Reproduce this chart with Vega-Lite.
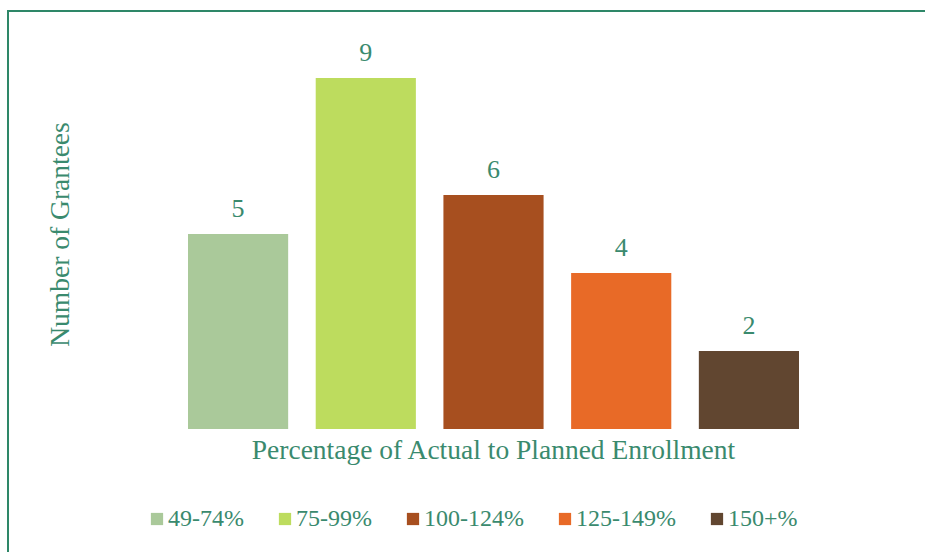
{
  "$schema": "https://vega.github.io/schema/vega-lite/v6.json",
  "autosize": {"type": "none"},
  "padding": {"left": 8, "top": 11, "right": 0, "bottom": 0},
  "width": 920,
  "height": 545,
  "background": "white",
  "config": {
    "view": {"stroke": "#2E8768", "strokeWidth": 2},
    "font": "Liberation Serif"
  },
  "data": {
    "values": [
      {"range": "49-74%", "grantees": 5},
      {"range": "75-99%", "grantees": 9},
      {"range": "100-124%", "grantees": 6},
      {"range": "125-149%", "grantees": 4},
      {"range": "150+%", "grantees": 2}
    ]
  },
  "encoding": {
    "x": {
      "field": "range",
      "type": "nominal",
      "sort": null,
      "scale": {"paddingInner": 0.2157, "paddingOuter": 0, "range": [180, 791]},
      "axis": {
        "labels": false, "ticks": false, "domain": false, "grid": false,
        "title": "Percentage of Actual to Planned Enrollment",
        "titleFont": "Liberation Serif", "titleFontSize": 27.5, "titleFontWeight": "normal",
        "titleColor": "#3A8A6E",
        "titleX": 485, "titleY": -98, "titleAlign": "center", "titleBaseline": "alphabetic", "titleAnchor": null
      }
    },
    "y": {
      "field": "grantees",
      "type": "quantitative",
      "scale": {"domain": [-3.256, 10.718], "nice": false, "zero": false},
      "axis": {
        "labels": false, "ticks": false, "domain": false, "grid": false,
        "title": "Number of Grantees",
        "titleFont": "Liberation Serif", "titleFontSize": 27.5, "titleFontWeight": "normal",
        "titleColor": "#3A8A6E",
        "titleAngle": -90,
        "titleX": 60, "titleY": 223, "titleAlign": "center", "titleBaseline": "alphabetic", "titleAnchor": null
      }
    }
  },
  "layer": [
    {
      "mark": {"type": "bar"},
      "encoding": {
        "y2": {"datum": 0},
        "color": {
          "field": "range",
          "type": "nominal",
          "sort": null,
          "scale": {
            "domain": ["49-74%", "75-99%", "100-124%", "125-149%", "150+%"],
            "range": ["#AAC99A", "#BDDC5E", "#A74F1F", "#E86A27", "#614630"]
          },
          "legend": {
            "title": null,
            "orient": "none",
            "direction": "horizontal",
            "legendX": 137,
            "legendY": 496,
            "padding": 0,
            "symbolType": "square",
            "symbolSize": 150,
            "symbolStrokeWidth": 0,
            "labelFont": "Liberation Serif",
            "labelFontSize": 24,
            "labelColor": "#3A8A6E",
            "labelOffset": -1,
            "columnPadding": 29,
            "labelLimit": 300
          }
        }
      }
    },
    {
      "mark": {"type": "text", "baseline": "alphabetic", "dy": -17, "font": "Liberation Serif", "fontSize": 26, "color": "#3A8A6E"},
      "encoding": {
        "text": {"field": "grantees", "type": "quantitative"}
      }
    }
  ]
}
